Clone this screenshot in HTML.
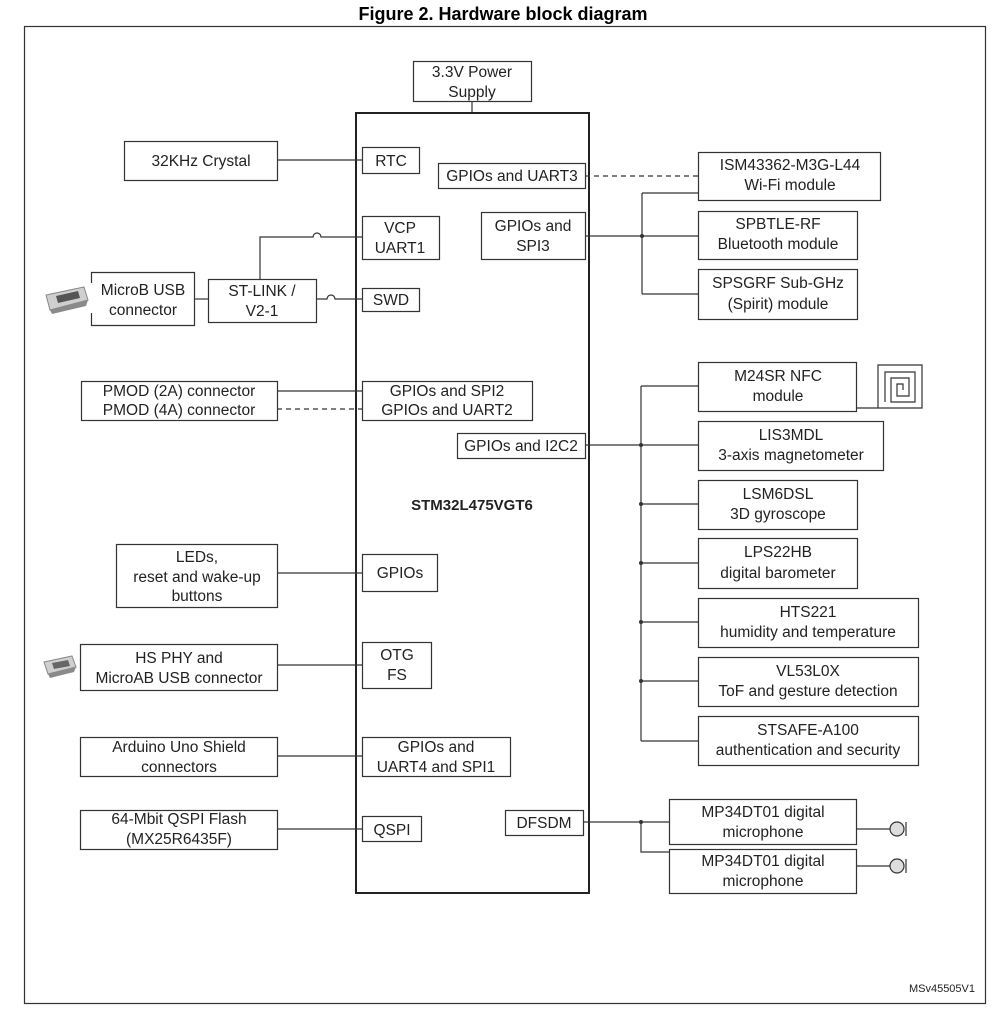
<!DOCTYPE html>
<html><head><meta charset="utf-8"><style>
html,body{margin:0;padding:0;background:#fff;}
svg{display:block;}
text{font-family:"Liberation Sans",Arial,sans-serif;font-size:15.5px;fill:#222;}
.b{fill:#fff;stroke:#333;stroke-width:1.2;}
.l{stroke:#333;stroke-width:1.2;fill:none;}
.d{stroke:#333;stroke-width:1.2;fill:none;stroke-dasharray:5,4;}
</style></head><body>
<svg width="1007" height="1031" viewBox="0 0 1007 1031" xmlns="http://www.w3.org/2000/svg">
<text x="503" y="20" text-anchor="middle" style="font-weight:bold;font-size:18px;fill:#000">Figure 2. Hardware block diagram</text>
<rect x="24.5" y="26.5" width="961" height="977" fill="none" stroke="#333" stroke-width="1.2"/>
<!-- main chip -->
<rect x="356" y="113" width="233" height="780" fill="#fff" stroke="#222" stroke-width="2"/>
<text x="472" y="510" text-anchor="middle" style="font-weight:bold;font-size:15px">STM32L475VGT6</text>
<!-- power -->
<line class="l" x1="472" y1="101" x2="472" y2="113"/>
<rect class="b" x="413.5" y="61.5" width="118" height="40"/>
<text x="472" y="77" text-anchor="middle">3.3V Power</text><text x="472" y="97" text-anchor="middle">Supply</text>

<!-- left side -->
<line class="l" x1="277" y1="160" x2="362" y2="160"/>
<rect class="b" x="124.5" y="141.5" width="153" height="39"/>
<text x="201" y="166" text-anchor="middle">32KHz Crystal</text>
<rect class="b" x="362.5" y="147.5" width="57" height="26"/>
<text x="391" y="166" text-anchor="middle">RTC</text>

<path class="l" d="M260 279 V237 H313 a4 4 0 0 1 8 0 H362"/>
<rect class="b" x="362.5" y="216.5" width="77" height="43"/>
<text x="400" y="233" text-anchor="middle">VCP</text><text x="400" y="253" text-anchor="middle">UART1</text>

<line class="l" x1="194" y1="299" x2="208" y2="299"/>
<path class="l" d="M316 299 H327 a4 4 0 0 1 8 0 H362"/>
<path fill="#fff" stroke="#333" stroke-width="1.2" d="M91.5 283 V272.5 H194.5 V325.5 H91.5 V313"/>
<text x="143" y="295" text-anchor="middle">MicroB USB</text><text x="143" y="315" text-anchor="middle">connector</text>
<rect class="b" x="208.5" y="279.5" width="108" height="43"/>
<text x="262" y="296" text-anchor="middle">ST-LINK /</text><text x="262" y="316" text-anchor="middle">V2-1</text>
<rect class="b" x="362.5" y="288.5" width="57" height="23"/>
<text x="391" y="305" text-anchor="middle">SWD</text>
<!-- usb icon 1 -->
<g>
<polygon points="46,295 84,287 88,300 50,310" fill="#cfcfcf" stroke="#888"/>
<polygon points="50,310 88,300 86,306 52,314" fill="#8a8a8a"/>
<polygon points="56,296 78,291 80,298 58,303" fill="#555"/>
</g>

<line class="l" x1="277" y1="391" x2="362" y2="391"/>
<line class="d" x1="277" y1="409" x2="362" y2="409"/>
<rect class="b" x="81.5" y="381.5" width="196" height="39"/>
<text x="179" y="396" text-anchor="middle">PMOD (2A) connector</text><text x="179" y="415" text-anchor="middle">PMOD (4A) connector</text>
<rect class="b" x="362.5" y="381.5" width="170" height="39"/>
<text x="447" y="396" text-anchor="middle">GPIOs and  SPI2</text><text x="447" y="415" text-anchor="middle">GPIOs and UART2</text>

<line class="l" x1="277" y1="573" x2="362" y2="573"/>
<rect class="b" x="116.5" y="544.5" width="161" height="63"/>
<text x="197" y="562" text-anchor="middle">LEDs,</text><text x="197" y="582" text-anchor="middle">reset and wake-up</text><text x="197" y="601" text-anchor="middle">buttons</text>
<rect class="b" x="362.5" y="554.5" width="75" height="37"/>
<text x="400" y="578" text-anchor="middle">GPIOs</text>

<line class="l" x1="277" y1="665" x2="362" y2="665"/>
<rect class="b" x="80.5" y="644.5" width="197" height="46"/>
<text x="179" y="663" text-anchor="middle">HS PHY and</text><text x="179" y="683" text-anchor="middle">MicroAB USB connector</text>
<rect class="b" x="362.5" y="642.5" width="69" height="46"/>
<text x="397" y="660" text-anchor="middle">OTG</text><text x="397" y="680" text-anchor="middle">FS</text>
<g>
<polygon points="44,662 72,656 76,667 48,674" fill="#cfcfcf" stroke="#888"/>
<polygon points="48,674 76,667 74,672 50,678" fill="#8a8a8a"/>
<polygon points="52,663 68,660 70,666 54,669" fill="#666"/>
</g>

<line class="l" x1="277" y1="756" x2="362" y2="756"/>
<rect class="b" x="80.5" y="737.5" width="197" height="39"/>
<text x="179" y="752" text-anchor="middle">Arduino Uno Shield</text><text x="179" y="772" text-anchor="middle">connectors</text>
<rect class="b" x="362.5" y="737.5" width="148" height="39"/>
<text x="436" y="752" text-anchor="middle">GPIOs and</text><text x="436" y="772" text-anchor="middle">UART4 and SPI1</text>

<line class="l" x1="277" y1="829" x2="362" y2="829"/>
<rect class="b" x="80.5" y="810.5" width="197" height="39"/>
<text x="179" y="824" text-anchor="middle">64-Mbit QSPI Flash</text><text x="179" y="844" text-anchor="middle">(MX25R6435F)</text>
<rect class="b" x="362.5" y="816.5" width="59" height="25"/>
<text x="392" y="835" text-anchor="middle">QSPI</text>

<!-- right side -->
<line class="d" x1="585" y1="176" x2="698" y2="176"/>
<rect class="b" x="438.5" y="163.5" width="147" height="25"/>
<text x="512" y="181" text-anchor="middle">GPIOs and UART3</text>
<rect class="b" x="698.5" y="152.5" width="182" height="48"/>
<text x="790" y="170" text-anchor="middle">ISM43362-M3G-L44</text><text x="790" y="190" text-anchor="middle">Wi-Fi module</text>

<path class="l" d="M585 236 H698 M642 193 V294 M642 193 H698 M642 294 H698"/>
<circle cx="642" cy="236" r="2" fill="#333"/>
<rect class="b" x="481.5" y="212.5" width="104" height="47"/>
<text x="533" y="231" text-anchor="middle">GPIOs and</text><text x="533" y="251" text-anchor="middle">SPI3</text>
<rect class="b" x="698.5" y="211.5" width="159" height="48"/>
<text x="778" y="229" text-anchor="middle">SPBTLE-RF</text><text x="778" y="249" text-anchor="middle">Bluetooth module</text>
<rect class="b" x="698.5" y="269.5" width="159" height="50"/>
<text x="778" y="288" text-anchor="middle">SPSGRF Sub-GHz</text><text x="778" y="309" text-anchor="middle">(Spirit) module</text>

<path class="l" d="M585 445 H698 M641 386 V741 M641 386 H698 M641 504 H698 M641 563 H698 M641 622 H698 M641 681 H698 M641 741 H698"/>
<g fill="#333"><circle cx="641" cy="445" r="2"/><circle cx="641" cy="504" r="2"/><circle cx="641" cy="563" r="2"/><circle cx="641" cy="622" r="2"/><circle cx="641" cy="681" r="2"/></g>
<rect class="b" x="457.5" y="433.5" width="128" height="25"/>
<text x="521" y="451" text-anchor="middle">GPIOs and  I2C2</text>
<rect class="b" x="698.5" y="362.5" width="158" height="49"/>
<text x="778" y="381" text-anchor="middle">M24SR NFC</text><text x="778" y="401" text-anchor="middle">module</text>
<path class="l" d="M856 408 H922 V365 H878 V408"/>
<path class="l" d="M885 402 V372 H915 V402 H891 V378 H909 V396 H897 V384 H903 V390"/>
<rect class="b" x="698.5" y="421.5" width="185" height="49"/>
<text x="791" y="440" text-anchor="middle">LIS3MDL</text><text x="791" y="460" text-anchor="middle">3-axis magnetometer</text>
<rect class="b" x="698.5" y="480.5" width="159" height="49"/>
<text x="778" y="499" text-anchor="middle">LSM6DSL</text><text x="778" y="519" text-anchor="middle">3D gyroscope</text>
<rect class="b" x="698.5" y="538.5" width="159" height="50"/>
<text x="778" y="557" text-anchor="middle">LPS22HB</text><text x="778" y="578" text-anchor="middle">digital barometer</text>
<rect class="b" x="698.5" y="598.5" width="220" height="49"/>
<text x="808" y="617" text-anchor="middle">HTS221</text><text x="808" y="637" text-anchor="middle">humidity and temperature</text>
<rect class="b" x="698.5" y="657.5" width="220" height="49"/>
<text x="808" y="676" text-anchor="middle">VL53L0X</text><text x="808" y="696" text-anchor="middle">ToF and gesture detection</text>
<rect class="b" x="698.5" y="716.5" width="220" height="49"/>
<text x="808" y="735" text-anchor="middle">STSAFE-A100</text><text x="808" y="755" text-anchor="middle">authentication and security</text>

<path class="l" d="M583 822 H669 M641 822 V852 H669 M856 829 H890 M856 866 H890"/>
<circle cx="641" cy="822" r="2" fill="#333"/>
<rect class="b" x="505.5" y="810.5" width="78" height="25"/>
<text x="544" y="828" text-anchor="middle">DFSDM</text>
<rect class="b" x="669.5" y="799.5" width="187" height="45"/>
<text x="763" y="817" text-anchor="middle">MP34DT01 digital</text><text x="763" y="837" text-anchor="middle">microphone</text>
<rect class="b" x="669.5" y="849.5" width="187" height="44"/>
<text x="763" y="866" text-anchor="middle">MP34DT01 digital</text><text x="763" y="886" text-anchor="middle">microphone</text>
<circle cx="897" cy="829" r="7" fill="#ddd" stroke="#333" stroke-width="1.2"/>
<line class="l" x1="906" y1="822" x2="906" y2="836"/>
<circle cx="897" cy="866" r="7" fill="#ddd" stroke="#333" stroke-width="1.2"/>
<line class="l" x1="906" y1="859" x2="906" y2="873"/>

<text x="975" y="992" text-anchor="end" style="font-size:11px">MSv45505V1</text>
</svg>
</body></html>
